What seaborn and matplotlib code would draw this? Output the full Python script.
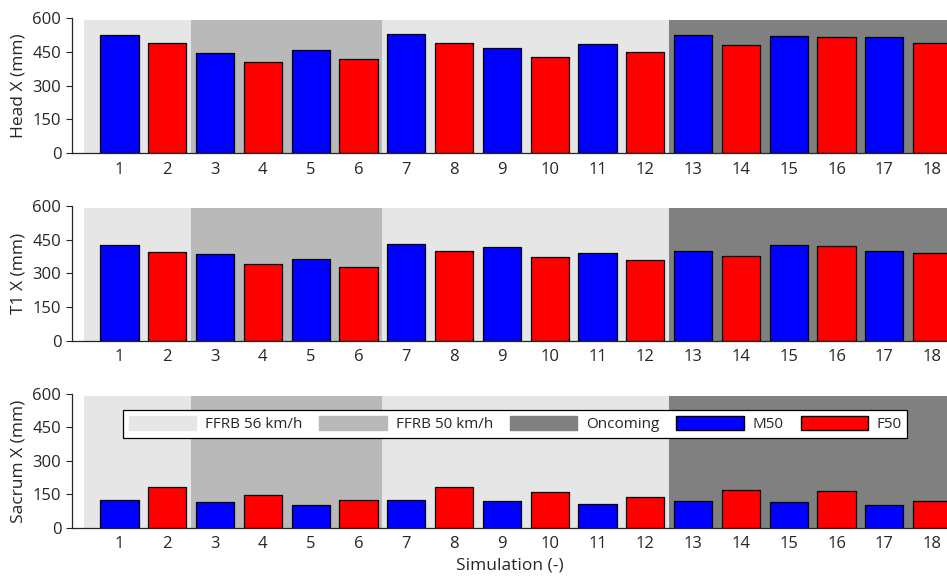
# ===================== IMPORTS =====================
import numpy as np
import pandas as pd
import matplotlib.pyplot as plt
import matplotlib.patches as mpatches
import seaborn as sns

# ===================== DATA =====================
simulations = list(range(1, 19))
occupant = ["M50", "F50"] * 9
scenario = (["FFRB 56 km/h"] * 2 + ["FFRB 50 km/h"] * 4
            + ["FFRB 56 km/h"] * 6 + ["Oncoming"] * 6)

head_x = [526, 490, 444, 407, 456, 419, 529, 491, 469,
          426, 485, 451, 523, 482, 522, 515, 515, 487]
t1_x = [426, 397, 386, 342, 363, 327, 429, 398, 416,
        371, 392, 360, 401, 377, 425, 422, 401, 389]
sacrum_x = [125, 185, 115, 148, 103, 125, 125, 185, 122,
            161, 106, 140, 121, 172, 115, 167, 104, 121]

panel_labels = ["Head X (mm)", "T1 X (mm)", "Sacrum X (mm)"]
y_ticks = [0, 150, 300, 450, 600]

# ===================== STYLE =====================
sns.set_style("white")
plt.rcParams["font.family"] = ["Open Sans", "DejaVu Sans"]
plt.rcParams["font.size"] = 12

occ_colors = {"M50": "#0000ff", "F50": "#ff0000"}
scen_colors = {"FFRB 56 km/h": "#e6e6e6", "FFRB 50 km/h": "#b9b9b9",
               "Oncoming": "#808080"}

df = pd.DataFrame({
    "sim": simulations,
    "occupant": occupant,
    "scenario": scenario,
    "Head X (mm)": head_x,
    "T1 X (mm)": t1_x,
    "Sacrum X (mm)": sacrum_x,
})

# ===================== FIGURE =====================
fig = plt.figure(figsize=(9.47, 5.84), dpi=100)
positions = [
    [0.0757, 0.7375, 0.9243, 0.2317],
    [0.0757, 0.4166, 0.9243, 0.2307],
    [0.0757, 0.0959, 0.9243, 0.2295],
]

for pos, col in zip(positions, panel_labels):
    ax = fig.add_axes(pos)

    # background shading per scenario block
    start = 0
    for i in range(1, len(df) + 1):
        if i == len(df) or df["scenario"][i] != df["scenario"][start]:
            lo = df["sim"][start] - 0.5
            hi = df["sim"][i - 1] + 0.5
            if start == 0:
                lo = df["sim"][start] - 0.75
            if i == len(df):
                hi = df["sim"][i - 1] + 1.0
            ax.fill_between([lo, hi], 0, 590,
                            color=scen_colors[df["scenario"][start]],
                            lw=0, zorder=0)
            start = i

    sns.barplot(data=df, x="sim", y=col, hue="occupant",
                palette=occ_colors, native_scale=True, dodge=False,
                width=0.8, saturation=1, edgecolor="black", linewidth=0.9,
                legend=False, ax=ax, zorder=2)

    ax.set_xlim(0, 18.31)
    ax.set_ylim(0, 600)
    ax.set_xticks(simulations)
    ax.set_yticks(y_ticks)
    ax.set_ylabel(col, fontsize=12.5, color="#262626")
    ax.set_xlabel("")
    ax.tick_params(axis="x", length=0, pad=6, labelsize=12, colors="#262626")
    ax.tick_params(axis="y", length=4, width=0.8, direction="out",
                   labelsize=12, colors="#262626", left=True)
    ax.set_facecolor("white")
    for side in ["top", "right"]:
        ax.spines[side].set_visible(False)
    for side in ["left", "bottom"]:
        ax.spines[side].set_color("#262626")
        ax.spines[side].set_linewidth(0.9)

# ===================== LEGEND / LABEL =====================
handles = [mpatches.Patch(color=scen_colors[s], label=s)
           for s in ["FFRB 56 km/h", "FFRB 50 km/h", "Oncoming"]]
handles += [mpatches.Patch(facecolor=occ_colors[o], edgecolor="black", label=o)
            for o in ["M50", "F50"]]
leg = ax.legend(handles=handles, ncol=5, loc="upper center",
                bbox_to_anchor=(0.507, 0.935), frameon=True, fancybox=False,
                framealpha=1, edgecolor="black", handlelength=4.4,
                handleheight=1.1, columnspacing=1.1, handletextpad=0.6,
                borderpad=0.35, fontsize=11)
leg.get_frame().set_linewidth(0.9)

ax.set_xlabel("Simulation (-)", fontsize=12.5, color="#262626", labelpad=4)

fig.savefig("out.png", dpi=100)
